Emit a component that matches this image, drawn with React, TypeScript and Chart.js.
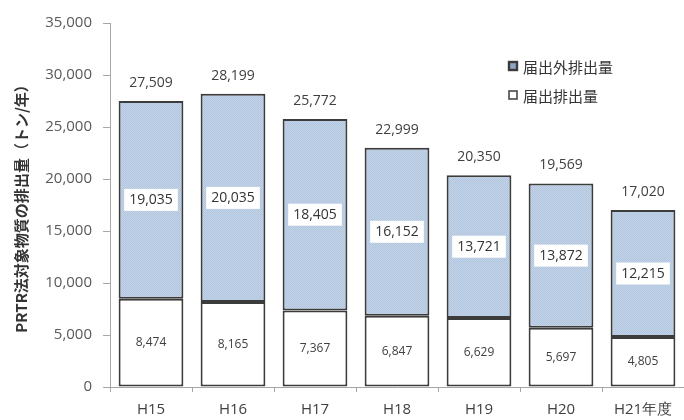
import React, { useEffect, useRef } from "react";
import { Chart, registerables } from "chart.js";

Chart.register(...registerables);

// ---- data ----
const categories = ["H15", "H16", "H17", "H18", "H19", "H20", "H21年度"];
const reportedEmissions = [8474, 8165, 7367, 6847, 6629, 5697, 4805]; // 届出排出量
const unreportedEmissions = [19035, 20035, 18405, 16152, 13721, 13872, 12215]; // 届出外排出量
const totalEmissions = [27509, 28199, 25772, 22999, 20350, 19569, 17020];
const reportedLabel = "届出排出量";
const unreportedLabel = "届出外排出量";
const yAxisTitle = "PRTR法対象物質の排出量（トン/年）";
const yMin = 0;
const yMax = 35000;
const yStep = 5000;

const NUM_FONT = "'Open Sans', 'Liberation Sans', sans-serif";
const JP_FONT = "'Noto Sans CJK JP', sans-serif";
const BORDER = "#3c3c3c";
const BLUE = "#bccde3";

function fmt(v: number) {
  return v.toLocaleString("en-US");
}

function makePattern(): CanvasPattern | string {
  const c = document.createElement("canvas");
  c.width = 2;
  c.height = 2;
  const g = c.getContext("2d");
  if (!g) return BLUE;
  g.fillStyle = "#c3d3e7";
  g.fillRect(0, 0, 2, 2);
  g.fillStyle = "#b2c6df";
  g.fillRect(0, 0, 1, 1);
  g.fillRect(1, 1, 1, 1);
  const p = g.createPattern(c, "repeat");
  return p || BLUE;
}

const labelPlugin = {
  id: "segLabels",
  afterDatasetsDraw(chart: any) {
    const ctx = chart.ctx as CanvasRenderingContext2D;
    const m0 = chart.getDatasetMeta(0);
    const m1 = chart.getDatasetMeta(1);
    ctx.save();
    ctx.textAlign = "center";
    ctx.textBaseline = "middle";
    categories.forEach((_, i) => {
      const b0 = m0.data[i] as any;
      const b1 = m1.data[i] as any;
      // bottom segment label
      ctx.font = `12px ${NUM_FONT}`;
      ctx.fillStyle = "#404040";
      ctx.fillText(fmt(reportedEmissions[i]), b0.x, (b0.y + b0.base) / 2);
      // top segment label with white box
      const cy = (b1.y + b1.base) / 2;
      ctx.font = `14px ${NUM_FONT}`;
      const t = fmt(unreportedEmissions[i]);
      const w = ctx.measureText(t).width + 10;
      ctx.fillStyle = "#ffffff";
      ctx.fillRect(b1.x - w / 2, cy - 11, w, 22);
      ctx.fillStyle = "#333333";
      ctx.fillText(t, b1.x, cy + 0.5);
      // total
      ctx.font = `14px ${NUM_FONT}`;
      ctx.fillStyle = "#404040";
      ctx.fillText(fmt(totalEmissions[i]), b1.x, b1.y - 18);
    });
    // legend
    const items = [
      { label: unreportedLabel, fill: "#8ea6c6", lw: 2.4 },
      { label: reportedLabel, fill: "#ffffff", lw: 1.5 },
    ];
    items.forEach((it, k) => {
      const cy = 66 + k * 29;
      ctx.fillStyle = it.fill;
      ctx.fillRect(509, cy - 4, 8, 8);
      ctx.strokeStyle = BORDER;
      ctx.lineWidth = it.lw;
      ctx.strokeRect(509, cy - 4, 8, 8);
      ctx.fillStyle = "#333333";
      ctx.textAlign = "left";
      ctx.font = `15px ${JP_FONT}`;
      ctx.fillText(it.label, 523, cy + 1);
    });
    ctx.restore();
  },
};

export default function App() {
  const ref = useRef<HTMLCanvasElement | null>(null);
  useEffect(() => {
    document.body.style.margin = "0";
    if (!ref.current) return;
    const pattern = makePattern();
    const chart = new Chart(ref.current, {
      type: "bar",
      data: {
        labels: categories,
        datasets: [
          {
            label: reportedLabel,
            data: reportedEmissions,
            backgroundColor: "#ffffff",
            borderColor: BORDER,
            borderWidth: 2,
            borderSkipped: false,
            categoryPercentage: 1,
            barPercentage: 0.79,
          },
          {
            label: unreportedLabel,
            data: unreportedEmissions,
            backgroundColor: pattern as any,
            borderColor: BORDER,
            borderWidth: 2,
            borderSkipped: false,
            categoryPercentage: 1,
            barPercentage: 0.79,
          },
        ],
      },
      options: {
        animation: false,
        responsive: false,
        devicePixelRatio: 1,
        layout: { padding: { top: 23, right: 0, bottom: 0, left: 0 } },
        plugins: { legend: { display: false }, tooltip: { enabled: false } },
        scales: {
          x: {
            stacked: true,
            afterFit: (s: any) => {
              s.height = 33;
            },
            grid: {
              display: true,
              drawOnChartArea: false,
              drawTicks: true,
              tickLength: 5,
              color: "#a6a6a6",
              offset: true,
            },
            border: { display: true, color: "#a6a6a6", width: 1 },
            ticks: {
              padding: 9,
              color: "#404040",
              font: { family: NUM_FONT, size: 15 },
              maxRotation: 0,
              autoSkip: false,
            },
          },
          y: {
            stacked: true,
            min: yMin,
            max: yMax,
            afterFit: (s: any) => {
              s.width = 110;
            },
            grid: {
              display: true,
              drawOnChartArea: false,
              drawTicks: true,
              tickLength: 7,
              color: "#a6a6a6",
            },
            border: { display: true, color: "#a6a6a6", width: 1 },
            ticks: {
              stepSize: yStep,
              padding: 11,
              color: "#595959",
              font: { family: NUM_FONT, size: 15 },
              callback: (v: any) => fmt(Number(v)),
            },
            title: {
              display: true,
              text: yAxisTitle,
              color: "#333333",
              font: { family: JP_FONT, size: 15, weight: "bold" },
              padding: { top: 12, bottom: 0 },
            },
          },
        },
      },
      plugins: [labelPlugin],
    });
    return () => chart.destroy();
  }, []);
  return (
    <div style={{ position: "absolute", left: 0, top: 0, width: 684, height: 420 }}>
      <canvas ref={ref} width={684} height={420} style={{ width: 684, height: 420 }} />
    </div>
  );
}
